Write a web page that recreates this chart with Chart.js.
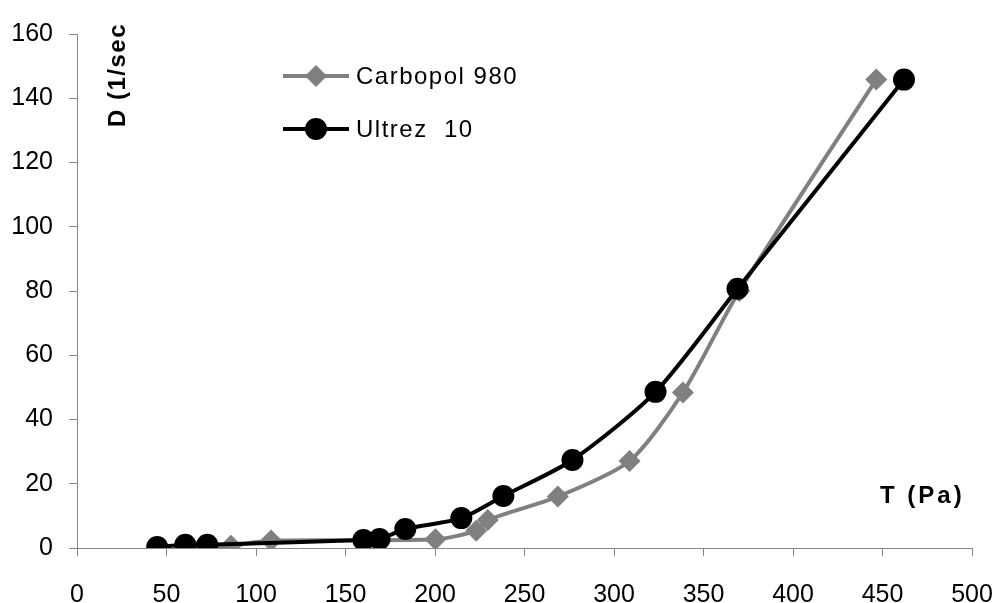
<!DOCTYPE html>
<html>
<head>
<meta charset="utf-8">
<script src="https://cdn.jsdelivr.net/npm/chart.js@4/dist/chart.umd.min.js"></script>
<style>
  html, body { margin: 0; padding: 0; background: #fff; }
  #wrap { width: 999px; height: 603px; position: relative; }
</style>
</head>
<body>
<div id="wrap"><canvas id="flowChart"></canvas></div>
<script>
// values
const carbopolT = [69, 86, 108.4, 200.2, 223, 229.5, 268.6, 308.7, 338.5, 370, 446.5];
const carbopolD = [0, 0.7, 2.3, 2.7, 5.4, 8.7, 16, 27.1, 48.4, 80, 145.8];
const ultrezT = [44.8, 60.5, 72.8, 160, 169, 183.4, 214.7, 238.2, 276.8, 323.2, 369, 462];
const ultrezD = [0.3, 1, 1, 2.5, 2.8, 5.9, 9.3, 16.2, 27.4, 48.6, 80.7, 145.8];
const seriesNames = ['Carbopol 980', 'Ultrez  10'];
const xTitle = 'T (Pa)';
const yTitle = 'D (1/sec';

const axisGray = '#868686';
const fontName = "'Liberation Sans', Arial, sans-serif";

function toPoints(xs, ys) {
    return xs.map((x, i) => ({ x: x, y: ys[i] }));
}

// keep the plot box fixed, labels may hang over the edge
function noPad(scale) {
    scale.paddingLeft = 0;
    scale.paddingRight = 0;
    scale.paddingTop = 0;
    scale.paddingBottom = 0;
}

// legend + axis titles drawn inside the plot like the original
const extras = {
    id: 'extras',
    afterDatasetsDraw(chart) {
        const ctx = chart.ctx;
        ctx.save();
        chart.data.datasets.forEach((ds, i) => {
            const y = 76 + i * 53;
            ctx.strokeStyle = ds.borderColor;
            ctx.lineWidth = ds.borderWidth;
            ctx.beginPath();
            ctx.moveTo(283, y);
            ctx.lineTo(349, y);
            ctx.stroke();
            ctx.fillStyle = ds.pointBackgroundColor;
            Chart.helpers.drawPoint(ctx, {
                pointStyle: ds.pointStyle, radius: ds.pointRadius, rotation: 0, borderWidth: 0
            }, 316, y);
            ctx.fillStyle = '#000';
            ctx.font = '24px ' + fontName;
            ctx.letterSpacing = '1.5px';
            ctx.textBaseline = 'middle';
            ctx.textAlign = 'left';
            ctx.fillText(ds.label, 356, y + 1);
        });

        ctx.font = 'bold 24px ' + fontName;
        ctx.fillStyle = '#000';
        ctx.textAlign = 'left';
        ctx.textBaseline = 'middle';
        ctx.letterSpacing = '3px';
        ctx.fillText(xTitle, 880, 496);

        ctx.letterSpacing = '1.5px';
        ctx.translate(118, 127);
        ctx.rotate(-Math.PI / 2);
        ctx.fillText(yTitle, 0, 0);
        ctx.restore();
    }
};

new Chart(document.getElementById('flowChart'), {
    type: 'scatter',
    data: {
        datasets: [{
            label: seriesNames[0],
            data: toPoints(carbopolT, carbopolD),
            showLine: true,
            borderColor: '#808080',
            backgroundColor: '#808080',
            pointBackgroundColor: '#808080',
            pointBorderWidth: 0,
            borderWidth: 4,
            pointStyle: 'rectRot',
            pointRadius: 11,
            tension: 0.25,
            order: 2
        }, {
            label: seriesNames[1],
            data: toPoints(ultrezT, ultrezD),
            showLine: true,
            borderColor: '#000000',
            backgroundColor: '#000000',
            pointBackgroundColor: '#000000',
            pointBorderWidth: 0,
            borderWidth: 4,
            pointStyle: 'circle',
            pointRadius: 11,
            tension: 0.25,
            order: 1
        }]
    },
    options: {
        responsive: true,
        maintainAspectRatio: false,
        animation: false,
        layout: { padding: { top: 34, right: 27, left: 0, bottom: 0 } },
        plugins: {
            legend: { display: false },
            tooltip: { enabled: false }
        },
        scales: {
            x: {
                type: 'linear',
                min: 0,
                max: 500,
                ticks: { stepSize: 50, color: '#000', padding: 24, font: { family: fontName, size: 25 } },
                grid: { drawOnChartArea: false, drawTicks: true, tickLength: 8, color: axisGray },
                border: { color: axisGray, width: 1 },
                afterFit(scale) { scale.height = 55; noPad(scale); }
            },
            y: {
                type: 'linear',
                min: 0,
                max: 160,
                ticks: { stepSize: 20, color: '#000', padding: 16, font: { family: fontName, size: 25 } },
                grid: { drawOnChartArea: false, drawTicks: true, tickLength: 8, color: axisGray },
                border: { color: axisGray, width: 1 },
                afterFit(scale) { scale.width = 77; noPad(scale); }
            }
        }
    },
    plugins: [extras]
});
</script>
</body>
</html>
